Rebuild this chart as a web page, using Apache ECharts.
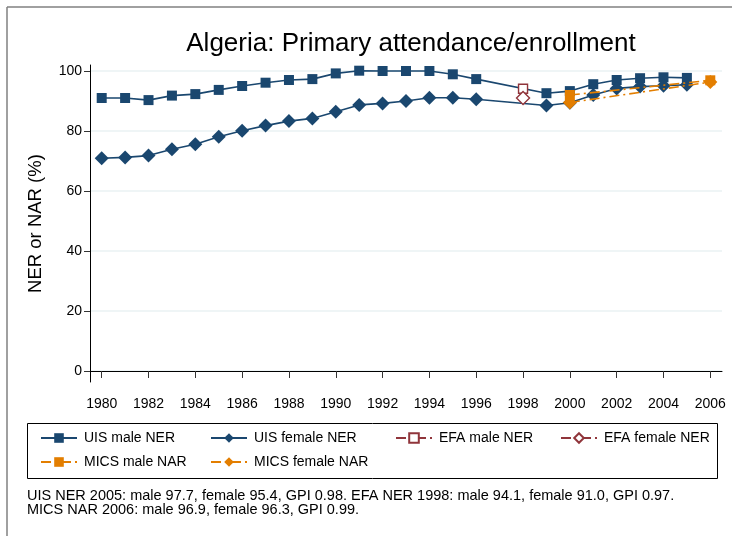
<!DOCTYPE html>
<html>
<head>
<meta charset="utf-8">
<script src="https://cdn.jsdelivr.net/npm/echarts@6/dist/echarts.min.js"></script>
<style>html,body{margin:0;padding:0;background:#fff}#c{width:732px;height:536px}</style>
</head>
<body>
<div id="c"></div>
<script>
const xTicks = [1980,1982,1984,1986,1988,1990,1992,1994,1996,1998,2000,2002,2004,2006];
const yTicks = [0,20,40,60,80,100];
const uisYears = [1980,1981,1982,1983,1984,1985,1986,1987,1988,1989,1990,1991,1992,1993,1994,1995,1996,1999,2000,2001,2002,2003,2004,2005];
const uisMale = [91.0,91.0,90.3,91.8,92.3,93.7,95.0,96.1,97.0,97.3,99.2,100.1,100.0,100.0,100.0,98.9,97.3,92.6,93.3,95.6,97.0,97.6,97.9,97.7];
const uisFemale = [70.9,71.2,71.8,73.9,75.6,78.1,80.1,81.8,83.3,84.2,86.4,88.7,89.2,90.0,91.1,91.1,90.6,88.5,89.4,92.0,94.2,94.8,95.1,95.4];
const efaYears = [1998];
const efaMale = [94.1];
const efaFemale = [91.0];
const micsYears = [2000,2006];
const micsMale = [92.0,96.9];
const micsFemale = [89.5,96.3];
const seriesNames = ['UIS male NER','UIS female NER','EFA male NER','EFA female NER','MICS male NAR','MICS female NAR'];
const footnote = ['UIS NER 2005: male 97.7, female 95.4, GPI 0.98. EFA NER 1998: male 94.1, female 91.0, GPI 0.97.',
                  'MICS NAR 2006: male 96.9, female 96.3, GPI 0.99.'];

const NAVY = '#1a476f', MAROON = '#90353b', ORANGE = '#e37e00';
const FONT = 'Liberation Sans, Arial, Helvetica, sans-serif';
const pairs = (xs, ys) => xs.map((x, i) => [x, ys[i]]);
const dashDot = [10, 4, 2, 4];

const chart = echarts.init(document.getElementById('c'), null, {renderer: 'canvas'});

function legendAt(name, left, top) {
  return {
    data: [name], left: left, top: top, orient: 'horizontal',
    itemWidth: 36, itemHeight: 12, itemGap: 0, padding: 0,
    textStyle: {fontFamily: FONT, fontSize: 14, color: '#000', padding: [0,0,0,2]},
    selectedMode: false
  };
}

chart.setOption({
  animation: false,
  backgroundColor: '#fff',
  textStyle: {fontFamily: FONT},
  title: {
    text: 'Algeria: Primary attendance/enrollment',
    left: 406, top: 26, textAlign: 'center',
    textStyle: {fontFamily: FONT, fontSize: 26, fontWeight: 'normal', color: '#000'}
  },
  grid: {left: 90, right: 10, top: 65, bottom: 154, containLabel: false},
  xAxis: {
    type: 'value', min: 1979.5, max: 2006.5,
    axisLine: {show: true, lineStyle: {color: '#000', width: 1}},
    axisTick: {show: true, length: 7, lineStyle: {color: '#333'}, customValues: xTicks},
    axisLabel: {customValues: xTicks, color: '#000', fontSize: 14, margin: 15, fontFamily: FONT,
                formatter: v => String(v)},
    splitLine: {show: false}
  },
  yAxis: {
    type: 'value', min: -3.67, max: 102,
    name: 'NER or NAR (%)', nameLocation: 'middle', nameGap: 45, nameRotate: 90,
    nameTextStyle: {fontFamily: FONT, fontSize: 18.5, color: '#000'},
    axisLine: {show: true, lineStyle: {color: '#000', width: 1}},
    axisTick: {show: true, length: 6, lineStyle: {color: '#333'}, customValues: yTicks},
    axisLabel: {customValues: yTicks, color: '#000', fontSize: 14, margin: 8, fontFamily: FONT},
    splitLine: {show: true, lineStyle: {color: '#eaf2f3', width: 1.5}}
  },
  legend: [
    legendAt(seriesNames[0], 40, 431),
    legendAt(seriesNames[1], 210, 431),
    legendAt(seriesNames[2], 395, 431),
    legendAt(seriesNames[3], 560, 431),
    legendAt(seriesNames[4], 40, 455),
    legendAt(seriesNames[5], 210, 455)
  ],
  graphic: [
    {type: 'line', shape: {x1: 7, y1: 7, x2: 732, y2: 7}, style: {stroke: '#808080', lineWidth: 1.5}},
    {type: 'line', shape: {x1: 7, y1: 7, x2: 7, y2: 536}, style: {stroke: '#808080', lineWidth: 1.5}},
    {type: 'rect', shape: {x: 27.5, y: 423.5, width: 690, height: 55}, style: {fill: 'none', stroke: '#000', lineWidth: 1}},
    {type: 'text', left: 27, top: 488, style: {text: footnote.join('\n'), font: '14.5px ' + FONT, fill: '#000', lineHeight: 14}}
  ],
  series: [
    {name: seriesNames[0], type: 'line', data: pairs(uisYears, uisMale), symbol: 'rect', symbolSize: 10,
     lineStyle: {color: NAVY, width: 1.6}, itemStyle: {color: NAVY}, z: 2},
    {name: seriesNames[1], type: 'line', data: pairs(uisYears, uisFemale), symbol: 'diamond', symbolSize: 14,
     lineStyle: {color: NAVY, width: 1.6}, itemStyle: {color: NAVY}, z: 2},
    {name: seriesNames[2], type: 'line', data: pairs(efaYears, efaMale), symbol: 'rect', symbolSize: 9, showAllSymbol: true,
     lineStyle: {color: MAROON, width: 1.4, type: dashDot}, itemStyle: {color: '#fff', borderColor: MAROON, borderWidth: 1.4}, z: 3},
    {name: seriesNames[3], type: 'line', data: pairs(efaYears, efaFemale), symbol: 'diamond', symbolSize: 13, showAllSymbol: true,
     lineStyle: {color: MAROON, width: 1.4, type: dashDot}, itemStyle: {color: '#fff', borderColor: MAROON, borderWidth: 1.4}, z: 3},
    {name: seriesNames[4], type: 'line', data: pairs(micsYears, micsMale), symbol: 'rect', symbolSize: 10,
     lineStyle: {color: ORANGE, width: 1.6, type: dashDot}, itemStyle: {color: ORANGE}, z: 4},
    {name: seriesNames[5], type: 'line', data: pairs(micsYears, micsFemale), symbol: 'diamond', symbolSize: 14,
     lineStyle: {color: ORANGE, width: 1.6, type: dashDot}, itemStyle: {color: ORANGE}, z: 4}
  ]
});
</script>
</body>
</html>
